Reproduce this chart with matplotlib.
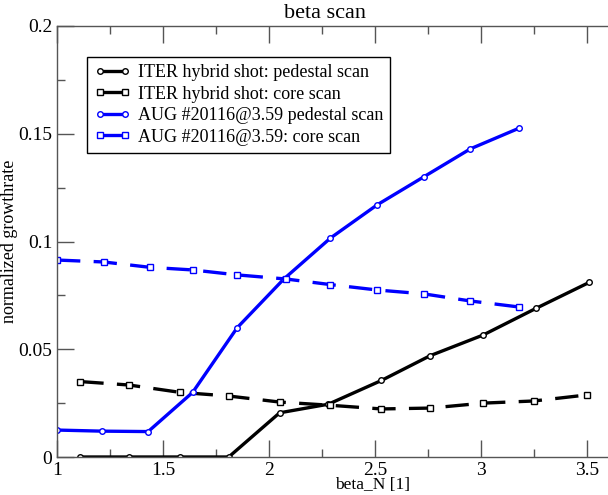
import matplotlib
matplotlib.use("Agg")
import matplotlib.pyplot as plt
from matplotlib.ticker import MultipleLocator

# ITER hybrid shot
iter_ped_x = [1.11, 1.34, 1.58, 1.81, 2.05, 2.28, 2.53, 2.76, 3.01, 3.26, 3.51]
iter_ped_y = [0.0, 0.0, 0.0, 0.0, 0.0205, 0.0245, 0.0355, 0.047, 0.0566, 0.069, 0.081]
iter_core_x = [1.11, 1.34, 1.58, 1.81, 2.05, 2.29, 2.53, 2.76, 3.01, 3.25, 3.5]
iter_core_y = [0.035, 0.0334, 0.030, 0.0283, 0.0255, 0.024, 0.0223, 0.0227, 0.025, 0.026, 0.0288]

# AUG #20116@3.59
aug_ped_x = [1.0, 1.21, 1.43, 1.64, 1.85, 2.07, 2.29, 2.51, 2.73, 2.95, 3.18]
aug_ped_y = [0.0125, 0.012, 0.0118, 0.030, 0.060, 0.0826, 0.1016, 0.117, 0.130, 0.143, 0.1526]
aug_core_x = [1.0, 1.22, 1.44, 1.64, 1.85, 2.08, 2.29, 2.51, 2.73, 2.95, 3.18]
aug_core_y = [0.0914, 0.0905, 0.088, 0.0868, 0.0845, 0.0826, 0.080, 0.0775, 0.0757, 0.0724, 0.0696]

labels = ["ITER hybrid shot: pedestal scan", "ITER hybrid shot: core scan",
          "AUG #20116@3.59 pedestal scan", "AUG #20116@3.59: core scan"]

plt.rcParams['font.family'] = ['Liberation Serif', 'DejaVu Serif']

fig = plt.figure(figsize=(6.08, 4.95), dpi=100)
# axes deliberately runs past the right edge, like the cropped original
ax = fig.add_axes([57/608, 1 - 457/495, 636/608, 431/495])

lw = 2.4
ax.plot(iter_ped_x, iter_ped_y, color="black", lw=lw, marker="o", ms=4,
        mfc="white", mew=1, label=labels[0])
ax.plot(iter_core_x, iter_core_y, color="black", lw=lw, ls=(0, (7, 4)),
        marker="s", ms=5, mfc="white", mew=1, label=labels[1])
ax.plot(aug_ped_x, aug_ped_y, color="#0000ff", lw=lw, marker="o", ms=4,
        mfc="white", mew=1, label=labels[2])
ax.plot(aug_core_x, aug_core_y, color="#0000ff", lw=lw, ls=(0, (7, 4)),
        marker="s", ms=5, mfc="white", mew=1, label=labels[3])

ax.set_xlim(1, 1 + 3.0)
ax.set_ylim(0, 0.2)
ax.xaxis.set_minor_locator(MultipleLocator(0.25))
ax.yaxis.set_minor_locator(MultipleLocator(0.025))
ax.set_xticks([1, 1.5, 2, 2.5, 3, 3.5])
ax.set_xticklabels(["1", "1.5", "2", "2.5", "3", "3.5"])
ax.set_yticks([0, 0.05, 0.1, 0.15, 0.2])
ax.set_yticklabels(["0", "0.05", "0.1", "0.15", "0.2"])
ax.tick_params(which="both", direction="in", top=True, right=False,
               labelsize=14, color="#555555")
ax.tick_params(which="major", length=12, width=1)
ax.tick_params(which="minor", length=6, width=1)
for s in ax.spines.values():
    s.set_color("#555555")
    s.set_linewidth(1)

ax.set_xlabel("beta_N [1]", fontsize=12.5)
ax.xaxis.set_label_coords((373 - 57) / 636, -(477 - 457) / 431)
ax.set_ylabel("normalized growthrate", fontsize=13)
ax.yaxis.set_label_coords(-(57 - 18) / 636, (457 - 241) / 431)
fig.text(325/608, 1 - 13/495, "beta scan", ha="center", va="center", fontsize=16)

leg = ax.legend(loc="upper left", bbox_to_anchor=(30/636, 1 - 31/431),
                borderaxespad=0, fontsize=13, numpoints=2, handlelength=2.0,
                handletextpad=0.4, labelspacing=0.25, borderpad=0.4,
                fancybox=False, framealpha=1, edgecolor="black")
leg.get_frame().set_linewidth(1)

fig.savefig("out.png", dpi=100)
